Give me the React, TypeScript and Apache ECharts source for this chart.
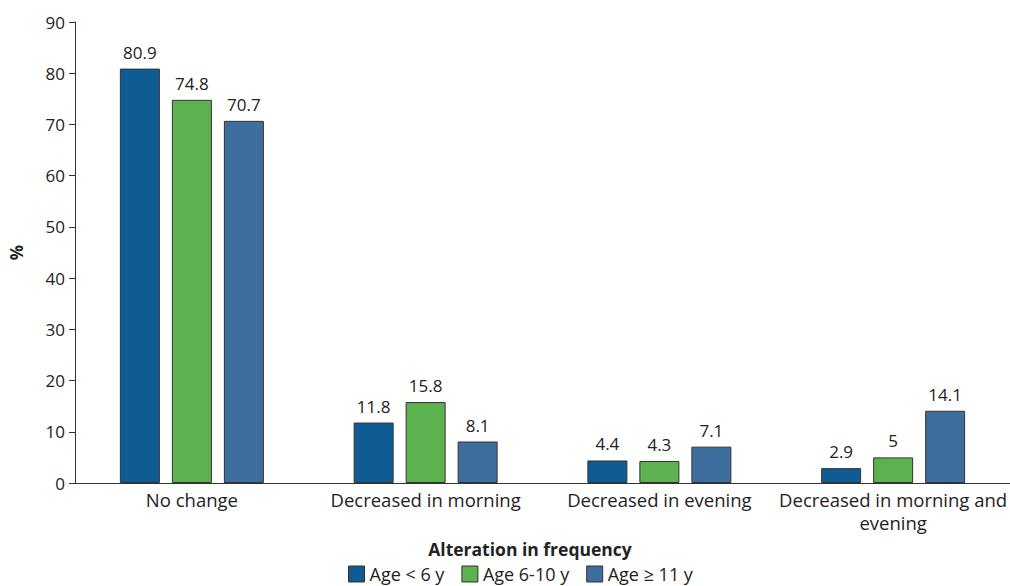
import React, { useEffect, useRef } from "react";
import * as echarts from "echarts";

const categories = ["No change", "Decreased in morning", "Decreased in evening", "Decreased in morning and\nevening"];
const seriesNames = ["Age < 6 y", "Age 6-10 y", "Age \u2265 11 y"];
const ageUnder6 = [80.9, 11.8, 4.4, 2.9];
const age6to10 = [74.8, 15.8, 4.3, 5];
const age11plus = [70.7, 8.1, 7.1, 14.1];
const colors = ["#0f5c94", "#5db14e", "#3d6e9e"];
const yTicks = { min: 0, max: 90, interval: 10 };

const FONT = "Open Sans";
const FS = 17;
const FT = 18.5;

export default function App() {
  const ref = useRef<HTMLDivElement>(null);
  useEffect(() => {
    if (!ref.current) return;
    const chart = echarts.init(ref.current, undefined, { renderer: "svg" });
    const data = [ageUnder6, age6to10, age11plus];
    chart.setOption({
      animation: false,
      textStyle: { fontFamily: FONT },
      grid: { left: 71, top: 22, width: 940, bottom: 103 },
      legend: {
        left: 348,
        top: 565,
        padding: 0,
        itemWidth: 16,
        itemHeight: 16,
        itemGap: 17,
        icon: "rect",
        itemStyle: { borderColor: "#333", borderWidth: 1 },
        textStyle: { fontSize: 18, color: "#222", fontFamily: FONT, lineHeight: 18 },
        data: seriesNames,
      },
      graphic: [
        {
          type: "text",
          x: 530,
          y: 549,
          style: {
            text: "Alteration in frequency",
            fontSize: 17.5,
            fontWeight: "bold",
            fill: "#222",
            fontFamily: FONT,
            align: "center",
            verticalAlign: "middle",
          },
        },
      ],
      xAxis: {
        type: "category",
        data: categories,
        axisLine: { lineStyle: { color: "#333", width: 1 } },
        axisTick: { show: false },
        axisLabel: { fontSize: FT, color: "#222", margin: 5, lineHeight: 23, interval: 0, fontFamily: FONT },
      },
      yAxis: {
        type: "value",
        min: yTicks.min,
        max: yTicks.max,
        interval: yTicks.interval,
        name: "%",
        nameLocation: "middle",
        nameGap: 50,
        nameRotate: 90,
        nameTextStyle: { fontSize: 17, fontWeight: "bold", color: "#222", fontFamily: FONT },
        axisLine: { show: true, lineStyle: { color: "#333", width: 1 } },
        axisTick: { show: true, length: 6, lineStyle: { color: "#333" } },
        splitLine: { show: false },
        axisLabel: { fontSize: FS, color: "#222", margin: 10, fontFamily: FONT },
      },
      series: seriesNames.map((name, i) => ({
        name,
        type: "bar",
        data: data[i],
        barWidth: 40,
        barGap: "30%",
        itemStyle: { color: colors[i], borderColor: "#333", borderWidth: 1 },
        label: {
          show: true,
          position: "top",
          distance: 8,
          fontSize: FS,
          color: "#222",
          fontFamily: FONT,
        },
      })),
    });
    return () => chart.dispose();
  }, []);
  return <div ref={ref} style={{ width: 1010, height: 586, position: "absolute", left: 0, top: 0 }} />;
}
